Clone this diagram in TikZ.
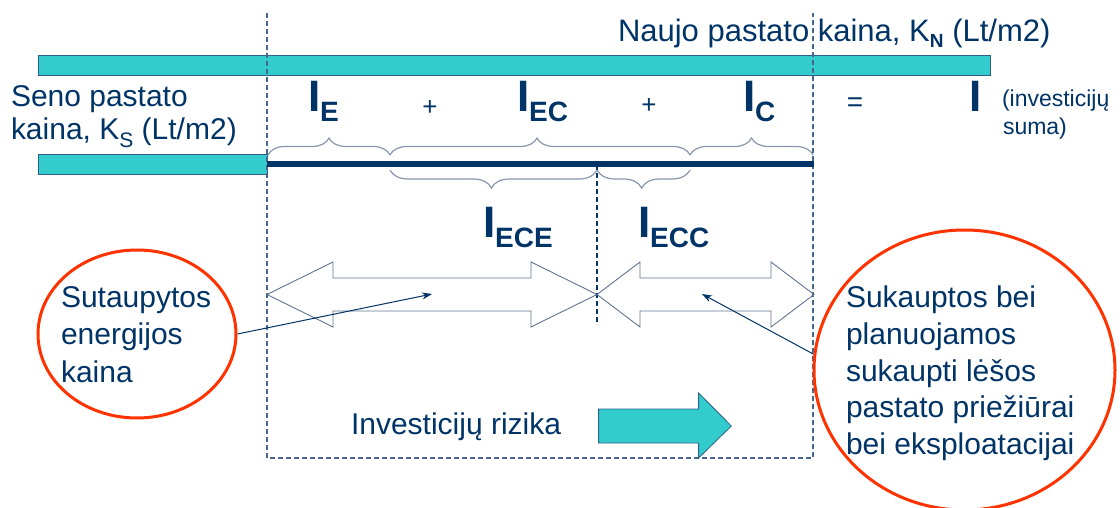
\documentclass[tikz,border=0pt]{standalone}
\usepackage{fontspec}
\setmainfont{Liberation Sans}
\usetikzlibrary{decorations.pathreplacing,shapes.geometric,arrows.meta}
\definecolor{navy}{RGB}{0,51,102}
\definecolor{tealfill}{RGB}{51,204,204}
\definecolor{tealedge}{RGB}{47,95,138}
\definecolor{dashcol}{RGB}{70,102,138}
\definecolor{bracecol}{RGB}{135,150,172}
\definecolor{blockcol}{RGB}{95,115,145}
\definecolor{redcol}{RGB}{255,51,0}
\begin{document}
\begin{tikzpicture}[x=1pt,y=-1pt,
  txt/.style={anchor=base west,inner sep=0pt,outer sep=0pt,text=navy,font=\fontsize{30}{36}\selectfont},
  smalltxt/.style={txt,font=\fontsize{23}{28}\selectfont},
  bigI/.style={anchor=base west,inner sep=0pt,outer sep=0pt,text=navy,font=\fontsize{44}{44}\selectfont\bfseries},
  opsym/.style={anchor=center,inner sep=0pt,text=navy},
  bar/.style={fill=tealfill,draw=tealedge,line width=0.8pt},
  dashline/.style={draw=dashcol,line width=1.2pt,dash pattern=on 5pt off 3pt},
  bracestyle/.style={draw=bracecol,line width=1.2pt,decorate},
  blockarrow/.style={draw=blockcol,line width=0.9pt},
  callout/.style={draw=redcol,line width=3pt,ellipse,inner sep=0pt},
  pointer/.style={draw=navy,line width=1pt,-{Stealth[length=10pt,width=7pt]}}
]
\useasboundingbox (0,0) rectangle (1120,508);

% bars
\path[bar] (38.6,55) rectangle (990,75);
\path[bar] (38.6,154) rectangle (267,174);

% dashed frame
\coordinate (dtl) at (267,13);
\coordinate (dbl) at (267,458);
\coordinate (dbr) at (813,458);
\coordinate (dtr) at (813,13);
\draw[dashline] (dtl) -- (dbl) -- (dbr) -- (dtr);
\coordinate (mtop) at (597,165);
\coordinate (mbot) at (597,322);
\draw[dashline,draw=navy] (mtop) -- (mbot);

% dark line
\coordinate (ls) at (267,164);
\coordinate (le) at (814,164);
\draw[navy,line width=6pt] (ls) -- (le);

% upper braces
\draw[bracestyle,decoration={brace,amplitude=17pt,aspect=0.5}] (268,155) -- (390,155);
\draw[bracestyle,decoration={brace,amplitude=17pt,aspect=0.49}] (390,155) -- (690,155);
\draw[bracestyle,decoration={brace,amplitude=17pt,aspect=0.5}] (690,155) -- (813,155);
% lower braces
\draw[bracestyle,decoration={brace,mirror,amplitude=18pt,aspect=0.49}] (390,170) -- (597,170);
\draw[bracestyle,decoration={brace,mirror,amplitude=18pt,aspect=0.48}] (597,170) -- (690,170);

% texts
\node[txt,font=\fontsize{31}{36}\selectfont] (naujo) at (618,42) {Naujo pastato kaina, K\raisebox{-6pt}{\fontsize{19}{19}\selectfont\bfseries N} (Lt/m2)};
\node[txt] (seno1) at (11,107) {Seno pastato};
\node[txt] (seno2) at (11,140) {kaina, K\raisebox{-8pt}{\fontsize{21}{21}\selectfont S} (Lt/m2)};

\node[bigI] (IE) at (308,112) {I\raisebox{-10pt}{\fontsize{28}{28}\selectfont E}};
\node[opsym,font=\fontsize{26}{26}\selectfont] (plus1) at (430,108) {+};
\node[bigI] (IEC) at (517,112) {I\raisebox{-10pt}{\fontsize{28}{28}\selectfont EC}};
\node[opsym,font=\fontsize{26}{26}\selectfont] (plus2) at (649,106) {+};
\node[bigI] (IC) at (743,112) {I\raisebox{-10pt}{\fontsize{28}{28}\selectfont C}};
\node[opsym,font=\fontsize{28}{28}\selectfont] (eq) at (855,105) {=};
\node[bigI] (Isum) at (969,112) {I};
\node[smalltxt] (inv1) at (1002,107) {(investicijų};
\node[smalltxt] (inv2) at (1003,135) {suma)};

\node[bigI] (IECE) at (483,237) {I\raisebox{-10pt}{\fontsize{28}{28}\selectfont ECE}};
\node[bigI] (IECC) at (638,237) {I\raisebox{-10pt}{\fontsize{28}{28}\selectfont ECC}};

% double block arrows
\draw[blockarrow] (267,294.5) -- (333,262) -- (333,278) -- (531,278) -- (531,262) -- (597,294.5)
  -- (531,327) -- (531,311) -- (333,311) -- (333,327) -- cycle;
\draw[blockarrow] (597,294.5) -- (640,262) -- (640,278) -- (771,278) -- (771,262) -- (814,294.5)
  -- (771,327) -- (771,311) -- (640,311) -- (640,327) -- cycle;

% risk arrow
\node[txt] (rizika) at (351,434) {Investicijų rizika};
\path[fill=tealfill,draw=tealedge,line width=0.8pt] (598.6,409) -- (698.6,409) -- (698.6,393) -- (731.4,426)
  -- (698.6,458) -- (698.6,443) -- (598.6,443) -- cycle;

% ellipses
\node[callout,minimum width=198pt,minimum height=168pt] (lell) at (137,334) {};
\node[callout,minimum width=301pt,minimum height=280pt] (rell) at (964.5,370) {};

\node[txt] (l1) at (61,307) {Sutaupytos};
\node[txt] (l2) at (61,344) {energijos};
\node[txt] (l3) at (61,382) {kaina};

\node[txt] (r1) at (846,307) {Sukauptos bei};
\node[txt] (r2) at (846,344) {planuojamos};
\node[txt] (r3) at (846,381) {sukaupti lėšos};
\node[txt] (r4) at (846,417) {pastato priežiūrai};
\node[txt] (r5) at (846,454) {bei eksploatacijai};

% pointers
\coordinate (ltgt) at (432,294);
\coordinate (rtgt) at (702,294);
\draw[pointer] (lell.east) -- (ltgt);
\draw[pointer] (rell.174) -- (rtgt);
\end{tikzpicture}
\end{document}
